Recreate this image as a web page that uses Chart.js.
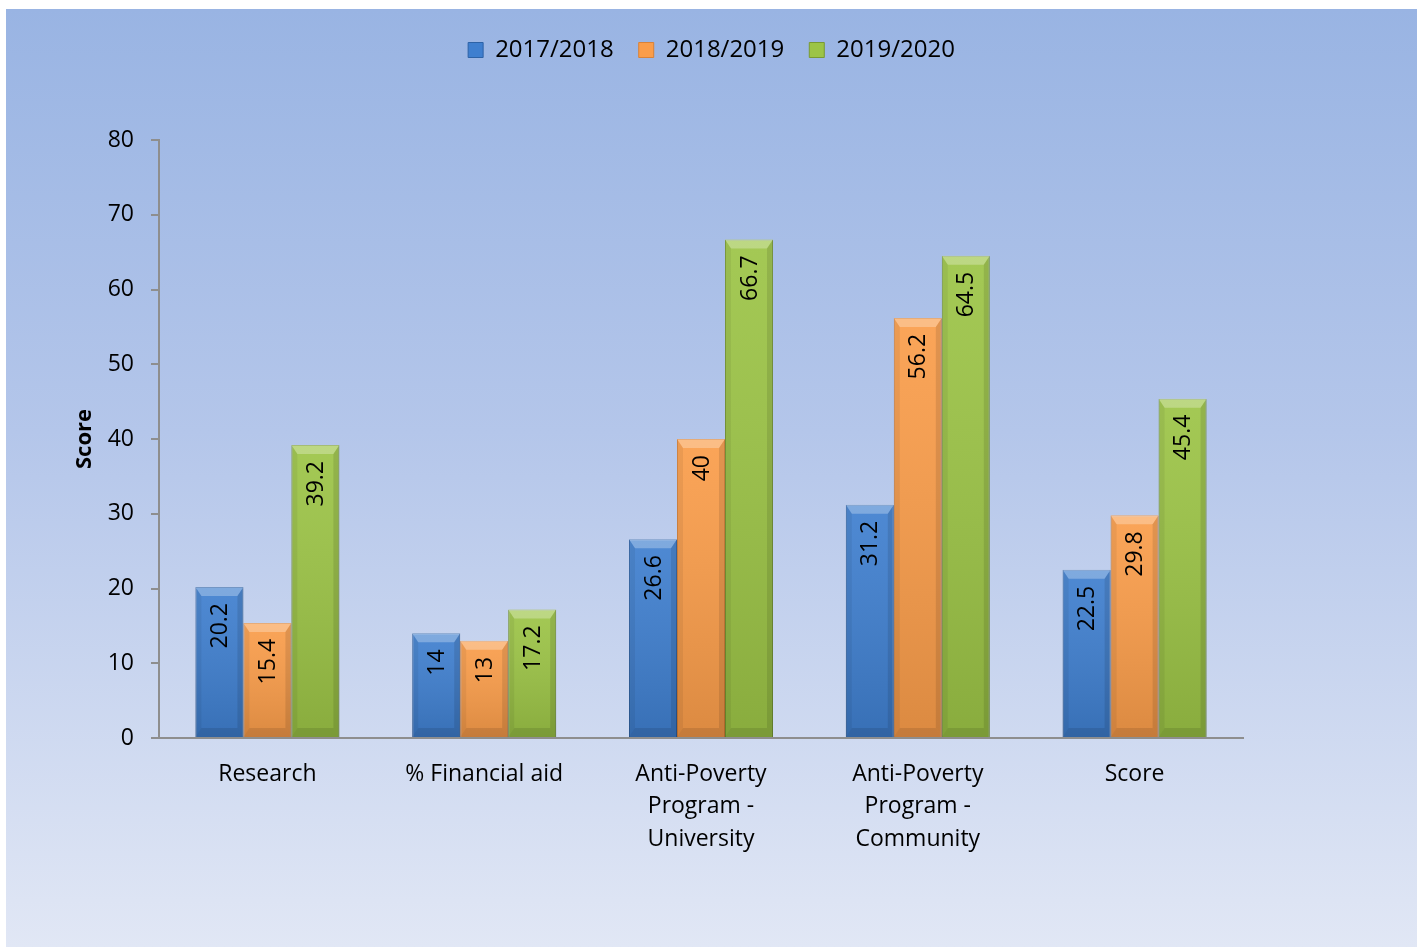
<!DOCTYPE html>
<html>
<head>
<meta charset="utf-8">
<script src="https://cdn.jsdelivr.net/npm/chart.js@4"></script>
<style>
  html, body { margin: 0; padding: 0; background: #fff; }
  #wrap {
    position: absolute; left: 6px; top: 9px; width: 1411px; height: 938px;
    background: linear-gradient(to bottom, #99b4e3 0%, #b4c6ea 45%, #e1e7f5 100%);
  }
</style>
</head>
<body>
<div id="wrap"><canvas id="chart"></canvas></div>
<script>
const categories = ['Research', '% Financial aid', ['Anti-Poverty', 'Program -', 'University'], ['Anti-Poverty', 'Program -', 'Community'], 'Score'];
const seriesNames = ['2017/2018', '2018/2019', '2019/2020'];
const values1718 = [20.2, 14, 26.6, 31.2, 22.5];
const values1819 = [15.4, 13, 40, 56.2, 29.8];
const values1920 = [39.2, 17.2, 66.7, 64.5, 45.4];
const yTicks = [0, 10, 20, 30, 40, 50, 60, 70, 80];

const FONT = "'Open Sans', sans-serif";
const fills = ['#3f7fcf', '#fa9d4a', '#9cc446'];
const edges = ['#2d62a6', '#d98237', '#789a32'];

// bevel shading + value labels drawn on top of the library's bars
const bevelPlugin = {
    id: 'bevel',
    afterDatasetsDraw(chart) {
        const ctx = chart.ctx;
        chart.data.datasets.forEach((ds, di) => {
            const meta = chart.getDatasetMeta(di);
            meta.data.forEach((bar, i) => {
                const {x, y, base, width} = bar.getProps(['x', 'y', 'base', 'width'], true);
                const l = x - width / 2, r = x + width / 2, t = y, b = base;
                const bv = 9, sv = 6;
                ctx.save();
                const g = ctx.createLinearGradient(0, t, 0, b);
                g.addColorStop(0, 'rgba(255,255,255,0.08)');
                g.addColorStop(1, 'rgba(0,0,0,0.12)');
                ctx.fillStyle = g;
                ctx.fillRect(l, t, width, b - t);
                // top bevel
                ctx.fillStyle = 'rgba(255,255,255,0.28)';
                ctx.beginPath();
                ctx.moveTo(l, t); ctx.lineTo(r, t); ctx.lineTo(r - sv, t + bv); ctx.lineTo(l + sv, t + bv);
                ctx.closePath(); ctx.fill();
                // bottom bevel
                ctx.fillStyle = 'rgba(0,0,0,0.10)';
                ctx.beginPath();
                ctx.moveTo(l, b); ctx.lineTo(r, b); ctx.lineTo(r - sv, b - bv); ctx.lineTo(l + sv, b - bv);
                ctx.closePath(); ctx.fill();
                // side bevels
                ctx.fillStyle = 'rgba(0,0,0,0.06)';
                ctx.beginPath();
                ctx.moveTo(l, t); ctx.lineTo(l + sv, t + bv); ctx.lineTo(l + sv, b - bv); ctx.lineTo(l, b);
                ctx.closePath(); ctx.fill();
                ctx.fillStyle = 'rgba(0,0,0,0.10)';
                ctx.beginPath();
                ctx.moveTo(r, t); ctx.lineTo(r - sv, t + bv); ctx.lineTo(r - sv, b - bv); ctx.lineTo(r, b);
                ctx.closePath(); ctx.fill();
                // value label, rotated, reading upward
                ctx.translate(x, t + 16);
                ctx.rotate(-Math.PI / 2);
                ctx.fillStyle = '#000';
                ctx.font = '23px ' + FONT;
                ctx.textAlign = 'right';
                ctx.textBaseline = 'middle';
                ctx.fillText(String(ds.data[i]), 0, 1);
                ctx.restore();
            });
        });
    }
};

// legend gets a fixed height and is centred over the whole canvas
const legendBox = {
    id: 'legendBox',
    beforeInit(chart) {
        const fit = chart.legend.fit;
        chart.legend.fit = function () {
            fit.bind(chart.legend)();
            this.height = 131;
        };
    },
    afterLayout(chart) {
        chart.legend.left = 0;
        chart.legend.right = chart.width;
        chart.legend.width = chart.width;
        chart.legend.top = 4;
    }
};

const ctx = document.getElementById('chart').getContext('2d');
new Chart(ctx, {
    type: 'bar',
    data: {
        labels: categories,
        datasets: [values1718, values1819, values1920].map((data, i) => ({
            label: seriesNames[i],
            data,
            backgroundColor: fills[i],
            borderColor: edges[i],
            borderWidth: 1,
            categoryPercentage: 0.664,
            barPercentage: 1
        }))
    },
    options: {
        responsive: true,
        maintainAspectRatio: false,
        devicePixelRatio: 1,
        animation: false,
        layout: { padding: { left: 0, right: 174, top: 0, bottom: 0 } },
        scales: {
            x: {
                grid: { display: false },
                border: { display: true, color: '#8e8e8e', width: 2 },
                ticks: {
                    color: '#000',
                    padding: 12,
                    maxRotation: 0,
                    autoSkip: false,
                    font: { family: FONT, size: 23, lineHeight: 1.41 }
                },
                afterFit(scale) { scale.height = 209; }
            },
            y: {
                min: 0,
                max: 80,
                afterBuildTicks(scale) { scale.ticks = yTicks.map(v => ({ value: v })); },
                grid: { display: true, drawOnChartArea: false, drawTicks: true, tickLength: 8, color: '#8e8e8e', lineWidth: 2 },
                border: { display: true, color: '#8e8e8e', width: 2 },
                ticks: {
                    color: '#000',
                    padding: 17,
                    font: { family: FONT, size: 23 }
                },
                title: {
                    display: true,
                    text: 'Score',
                    color: '#000',
                    padding: { top: 66, bottom: 0 },
                    font: { family: FONT, size: 22, weight: 'bold' }
                },
                afterFit(scale) { scale.width = 153; }
            }
        },
        plugins: {
            legend: {
                position: 'top',
                labels: {
                    color: '#000',
                    boxWidth: 15,
                    boxHeight: 15,
                    padding: 25,
                    font: { family: FONT, size: 24 }
                }
            },
            tooltip: { enabled: false }
        }
    },
    plugins: [bevelPlugin, legendBox]
});
</script>
</body>
</html>
